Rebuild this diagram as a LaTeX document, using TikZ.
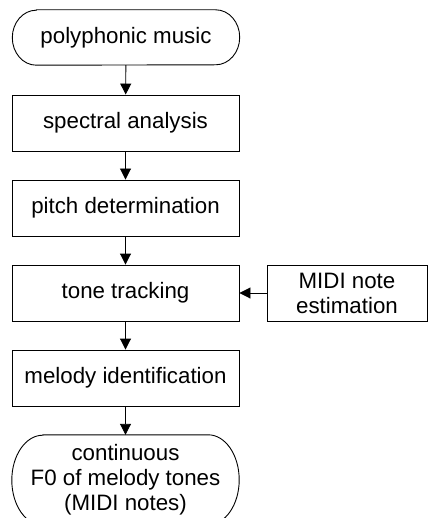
\documentclass[tikz,border=0pt]{standalone}
\usepackage{fontspec}
\setmainfont{Liberation Sans}
\usetikzlibrary{arrows.meta,positioning}

\begin{document}
\begin{tikzpicture}[
  x=1pt, y=1pt,
  font=\fontsize{22.3}{25}\selectfont,
  >={Triangle[width=11pt,length=11pt]},
  % ---- Node styles ----
  stage/.style={draw, line width=0.9pt, align=center, inner sep=0pt,
                minimum width=227pt, minimum height=56pt},
  term/.style={align=center, inner sep=0pt, minimum width=227pt},
  side/.style={stage, minimum width=160pt},
  % ---- Lines ----
  line/.style={->, line width=0.9pt},
  outline/.style={line width=0.9pt}
]

% ===== Page frame (bottom terminal runs off the page) =====
\useasboundingbox (0,0) rectangle (428,-518);
\clip (0,0) rectangle (428,-518);

% ===== Fixed coordinates (x right, y down, in pt) =====
% Row 1
\node[term, minimum height=55pt] (music) at (126,-37.5) {polyphonic music};

% Rows 2-5
\node[stage] (spec)   at (125.5,-123) {spectral analysis};
\node[stage] (pitch)  at (125.5,-208) {pitch determination};
\node[stage] (track)  at (125.5,-293) {tone tracking};
\node[stage] (melody) at (125.5,-378) {melody identification};

% Row 6
\node[term, minimum height=90pt] (f0) at (125.5,-480) {continuous\\F0 of melody tones\\(MIDI notes)};

% Side: MIDI estimation
\node[side] (midi) at (347,-293) {MIDI note\\estimation};

% ===== Terminal outlines (elliptic ends) =====
\draw[outline] ([xshift=24pt]music.north west) -- ([xshift=-24pt]music.north east)
  arc[start angle=90, end angle=-90, x radius=24pt, y radius=27.5pt]
  -- ([xshift=24pt]music.south west)
  arc[start angle=270, end angle=90, x radius=24pt, y radius=27.5pt] -- cycle;
\draw[outline] ([xshift=31pt]f0.north west) -- ([xshift=-31pt]f0.north east)
  arc[start angle=90, end angle=-90, x radius=31pt, y radius=45pt]
  -- ([xshift=31pt]f0.south west)
  arc[start angle=270, end angle=90, x radius=31pt, y radius=45pt] -- cycle;

% ===== Connections =====
\draw[line] (music)  -- (spec);
\draw[line] (spec)   -- (pitch);
\draw[line] (pitch)  -- (track);
\draw[line] (track)  -- (melody);
\draw[line] (melody) -- (f0);
\draw[line] (midi)   -- (track);

\end{tikzpicture}
\end{document}
